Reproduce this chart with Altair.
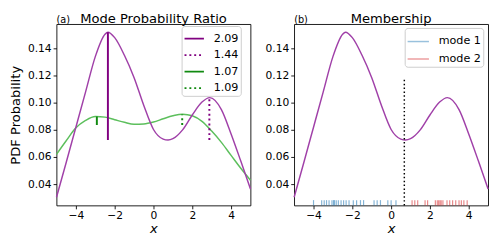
import altair as alt
import pandas as pd

# ---- data ----
x_purple = [-5, -4.5, -4, -3.5, -3, -2.5, -2.35, -2, -1.5, -1, -0.5, 0, 0.5, 0.75, 1, 1.5, 2, 2.5, 2.9, 3.5, 4, 4.5, 5]
y_purple = [0.0304, 0.056, 0.082, 0.108, 0.134, 0.1505, 0.152, 0.148, 0.135, 0.1185, 0.098, 0.0803, 0.0732, 0.0725,
            0.0735, 0.080, 0.091, 0.1005, 0.1038, 0.095, 0.077, 0.057, 0.0364]

x_green = [-5, -4.5, -4, -3.5, -3, -2.5, -2, -1.5, -1, -0.5, 0, 0.5, 1, 1.5, 2, 2.5, 3, 3.5, 4, 4.5, 5]
y_green = [0.062, 0.072, 0.0815, 0.087, 0.0899, 0.0894, 0.0875, 0.0856, 0.0842, 0.0844, 0.0858, 0.0882, 0.0904,
           0.0916, 0.0904, 0.0863, 0.0791, 0.0708, 0.0612, 0.0517, 0.0429]

ratio_labels = ["2.09", "1.44", "1.07", "1.09"]
ratio_x = [-2.35, 2.88, -2.92, 1.48]
ratio_lo = [0.0726, 0.0726, 0.0836, 0.0836]
ratio_hi = [0.152, 0.1036, 0.0899, 0.0914]

mode_labels = ["mode 1", "mode 2"]
mode1_x = [-4.0, -3.58, -3.45, -3.33, -3.2, -3.05, -2.97, -2.92, -2.83, -2.72, -2.58, -2.45, -2.32, -2.17,
           -1.95, -1.78, -1.58, -1.42, -0.88, -0.72, -0.55, -0.17, 0.0, 0.25]
mode2_x = [1.08, 1.22, 1.37, 1.75, 1.88, 2.28, 2.38, 2.45, 2.52, 2.58, 2.67, 2.88, 3.02, 3.17, 3.33, 3.5,
           3.62, 3.75, 3.92]

split_x = [0.68]
split_lo = [0.0243]
split_hi = [0.1185]

panel_titles = ["Mode Probability Ratio", "Membership"]
panel_tags = ["(a)", "(b)"]

x_ticks = [-4, -2, 0, 2, 4]
y_ticks = [0.04, 0.06, 0.08, 0.10, 0.12, 0.14]
X_DOM = [-5, 5]
Y_DOM = [0.0243, 0.158]

FONT = "DejaVu Sans"
PURPLE_CURVE = "#a040a8"
PURPLE = "#800080"
GREEN_CURVE = "#5cbf5c"
GREEN = "#108a10"

df_p = pd.DataFrame({"x": x_purple, "y": y_purple})
df_g = pd.DataFrame({"x": x_green, "y": y_green})
df_r = pd.DataFrame({"label": ratio_labels, "x": ratio_x, "lo": ratio_lo, "hi": ratio_hi})
df_rug = pd.DataFrame({"x": mode1_x + mode2_x,
                       "mode": [mode_labels[0]] * len(mode1_x) + [mode_labels[1]] * len(mode2_x)})
df_split = pd.DataFrame({"x": split_x, "lo": split_lo, "hi": split_hi})

W, H = 200, 187


def xenc():
    return alt.X("x:Q", scale=alt.Scale(domain=X_DOM, nice=False, zero=False),
                 axis=alt.Axis(values=x_ticks, title="x", titleFontStyle="italic", format="d",
                               labelOverlap=False, labelPadding=0.5, titlePadding=2))


def yenc(title):
    ax = alt.Axis(values=y_ticks, format=".2f", title=title, labelOverlap=False, tickCount=6,
                  labelSeparation=0)
    return alt.Y("y:Q", scale=alt.Scale(domain=Y_DOM, nice=False, zero=False), axis=ax)


def titles(i):
    main = alt.Chart(pd.DataFrame({"t": [panel_titles[i]]})).mark_text(
        align="center", baseline="alphabetic", fontSize=13.5, font=FONT, color="black").encode(
        text="t:N", x=alt.value(W / 2), y=alt.value(-1.5))
    tag = alt.Chart(pd.DataFrame({"t": [panel_tags[i]]})).mark_text(
        align="left", baseline="alphabetic", fontSize=10, font=FONT, color="black").encode(
        text="t:N", x=alt.value(0), y=alt.value(-1.5))
    return main, tag


legend_common = dict(title=None, orient="none", symbolType="stroke",
                     labelFontSize=11.5, labelOffset=9, strokeColor="#cccccc", fillColor="white",
                     cornerRadius=3)

# ---- panel (a) ----
green_line = alt.Chart(df_g).mark_line(color=GREEN_CURVE, strokeWidth=1.5, interpolate="monotone").encode(
    x=xenc(), y=yenc("PDF Probability"))
purple_line = alt.Chart(df_p).mark_line(color=PURPLE_CURVE, strokeWidth=1.5, interpolate="monotone").encode(
    x=xenc(), y=yenc("PDF Probability"))
rules = alt.Chart(df_r).mark_rule(strokeWidth=2).encode(
    x="x:Q",
    y="lo:Q",
    y2="hi:Q",
    color=alt.Color("label:N", scale=alt.Scale(domain=ratio_labels, range=[PURPLE, PURPLE, GREEN, GREEN]),
                    legend=alt.Legend(symbolSize=400, symbolStrokeWidth=2, rowPadding=-3.5, padding=2,
                                      legendX=129, legendY=2, **legend_common)),
    strokeDash=alt.StrokeDash("label:N", scale=alt.Scale(domain=ratio_labels,
                                                          range=[[1, 0], [2, 3], [1, 0], [2, 3]]),
                              legend=None),
)
ta, tga = titles(0)
left = alt.layer(green_line, purple_line, rules, ta, tga).properties(width=W, height=H)

# ---- panel (b) ----
purple_line2 = alt.Chart(df_p).mark_line(color=PURPLE_CURVE, strokeWidth=1.5, interpolate="monotone").encode(
    x=xenc(), y=yenc(None))
split_rule = alt.Chart(df_split).mark_rule(color="black", strokeWidth=1.5, strokeDash=[1.5, 2.5]).encode(
    x="x:Q", y="lo:Q", y2="hi:Q")
rug = alt.Chart(df_rug).mark_rule(strokeWidth=1.2, opacity=0.55).encode(
    x="x:Q",
    y=alt.value(H),
    y2=alt.value(H - 5.5),
    color=alt.Color("mode:N", scale=alt.Scale(domain=mode_labels, range=["#1f77b4", "#d62728"]),
                    legend=alt.Legend(symbolSize=484, symbolStrokeWidth=1.5, symbolOpacity=0.45,
                                      rowPadding=-5, padding=2, legendX=114, legendY=4,
                                      **legend_common)),
)
tb, tgb = titles(1)
right = alt.layer(purple_line2, split_rule, rug, tb, tgb).properties(width=W, height=H)

chart = alt.hconcat(left, right, spacing=10).resolve_scale(
    color="independent", strokeDash="independent").properties(
    padding={"left": 0, "top": 0, "right": 0, "bottom": 0}
).configure(font=FONT).configure_view(
    stroke="black", strokeWidth=0.9
).configure_axis(
    grid=False, domain=False, tickColor="black", tickSize=3.5, tickWidth=0.9, labelOverlap=False,
    labelFontSize=11, labelColor="black", labelFont=FONT, labelPadding=2,
    titleFontSize=13.5, titleFont=FONT, titleFontWeight="normal", titleColor="black", titlePadding=5
).configure_legend(
    labelFont=FONT, labelColor="black"
)

chart.save("out.html", embed_options={"renderer": "svg", "actions": False})
